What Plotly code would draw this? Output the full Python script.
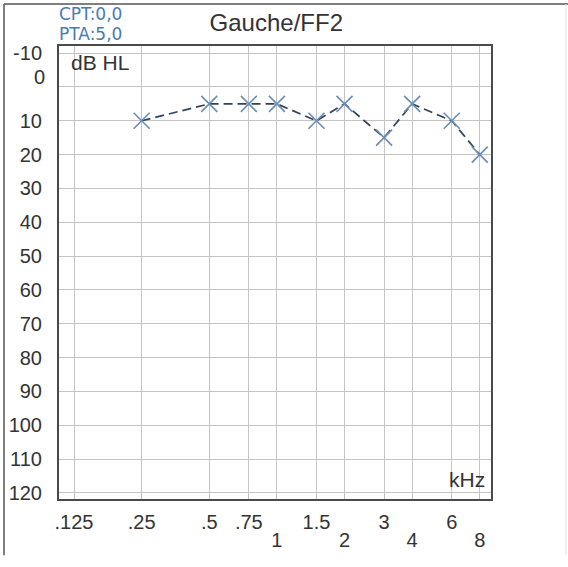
import plotly.graph_objects as go

FREQ_KHZ = [0.25, 0.5, 0.75, 1, 1.5, 2, 3, 4, 6, 8]
THRESHOLD_DB = [10, 5, 5, 5, 10, 5, 15, 5, 10, 20]

# x labels are printed on two rows: fractional/odd values on top, octaves 1-8 below
X_TICKS = [0.125, 0.25, 0.5, 0.75, 1, 1.5, 2, 3, 4, 6, 8]
X_LABELS_TOP = [".125", ".25", ".5", ".75", "", "1.5", "", "3", "", "6", ""]
X_TICKS_LOW = [1, 2, 4, 8]
X_LABELS_LOW = ["1", "2", "4", "8"]
Y_TICKS = list(range(-10, 130, 10))
Y_LABELS = [str(v) for v in Y_TICKS]
Y_LABELS[1] = ""  # the "0" is printed a bit above its gridline, see annotation below

TEXT = "#333333"
BLUE = "#4a7bb0"
GRID = "#c4c4c4"
FRAME = "#4a4a4a"
FONT = "Liberation Sans, Arial, sans-serif"
X_RANGE = [-0.97, 0.953]

fig = go.Figure()
fig.add_trace(
    go.Scatter(
        x=FREQ_KHZ,
        y=THRESHOLD_DB,
        mode="lines+markers",
        line=dict(color="#2f435c", width=1.7, dash="9px,5px"),
        marker=dict(symbol="x-thin", size=16, line=dict(color="#6a8db2", width=1.6)),
        showlegend=False,
        hoverinfo="skip",
    )
)
# empty trace so the second-row label axis gets drawn
fig.add_trace(go.Scatter(x=[], y=[], xaxis="x2", showlegend=False, hoverinfo="skip"))

tick_font = dict(family=FONT, size=20, color=TEXT)

fig.update_layout(
    xaxis=dict(
        type="log",
        range=X_RANGE,
        tickvals=X_TICKS,
        ticktext=X_LABELS_TOP,
        showgrid=True,
        gridcolor=GRID,
        gridwidth=1,
        showline=True,
        mirror=True,
        linecolor=FRAME,
        linewidth=2,
        ticks="",
        ticklabelstandoff=4,
        tickfont=tick_font,
        zeroline=False,
        automargin=False,
    ),
    xaxis2=dict(
        type="log",
        range=X_RANGE,
        overlaying="x",
        anchor="y",
        side="bottom",
        tickvals=X_TICKS_LOW,
        ticktext=X_LABELS_LOW,
        showgrid=False,
        showline=False,
        ticks="",
        ticklabelstandoff=27,
        tickfont=tick_font,
        zeroline=False,
        automargin=False,
    ),
    yaxis=dict(
        range=[121.8, -12.1],
        tickvals=Y_TICKS,
        ticktext=Y_LABELS,
        showgrid=True,
        gridcolor=GRID,
        gridwidth=1,
        showline=True,
        mirror=True,
        linecolor=FRAME,
        linewidth=2,
        ticks="",
        ticklabelstandoff=11,
        tickfont=tick_font,
        zeroline=False,
        automargin=False,
    ),
)

annotations = [
    dict(text="CPT:0,0", x=-0.004, xref="paper", y=1.07, yref="paper", xanchor="left", yanchor="middle",
         font=dict(family="DejaVu Sans, sans-serif", size=17, color=BLUE)),
    dict(text="PTA:5,0", x=-0.004, xref="paper", y=1.027, yref="paper", xanchor="left", yanchor="middle",
         font=dict(family="DejaVu Sans, sans-serif", size=17, color=BLUE)),
    dict(text="dB HL", x=0.023, xref="paper", y=0.9625, yref="paper", xanchor="left", yanchor="middle",
         font=dict(family=FONT, size=21, color=TEXT)),
    dict(text="kHz", x=0.99, xref="paper", y=0.042, yref="paper", xanchor="right", yanchor="middle",
         font=dict(family=FONT, size=21, color=TEXT)),
    dict(text=str(Y_TICKS[1]), x=-0.027, xref="paper", y=Y_TICKS[1], yref="y", yshift=10,
         xanchor="right", yanchor="middle", font=tick_font),
]
for a in annotations:
    a.update(showarrow=False)

shapes = [
    # outer frame: top and left edges, faint right edge
    dict(type="line", xref="paper", yref="paper", x0=-0.1273, x1=1.18, y0=1.0927, y1=1.0927,
         line=dict(color="#555555", width=1.5)),
    dict(type="line", xref="paper", yref="paper", x0=-0.1273, x1=-0.1273, y0=-0.124, y1=1.0927,
         line=dict(color="#555555", width=1.5)),
    dict(type="line", xref="paper", yref="paper", x0=1.1736, x1=1.1736, y0=-0.124, y1=1.0927,
         line=dict(color="#e4e4e4", width=1)),
]

fig.update_layout(
    width=568,
    height=567,
    margin=dict(l=59, r=77, t=46, b=68),
    paper_bgcolor="white",
    plot_bgcolor="white",
    title=dict(text="Gauche/FF2", x=0.503, xref="paper", y=1 - 22.5 / 567, yref="container",
               xanchor="center", yanchor="middle", font=dict(family=FONT, size=24, color=TEXT)),
    annotations=annotations,
    shapes=shapes,
)

fig.write_html("out.html", config={"displayModeBar": False},
               post_script="document.body.style.margin='0';")
